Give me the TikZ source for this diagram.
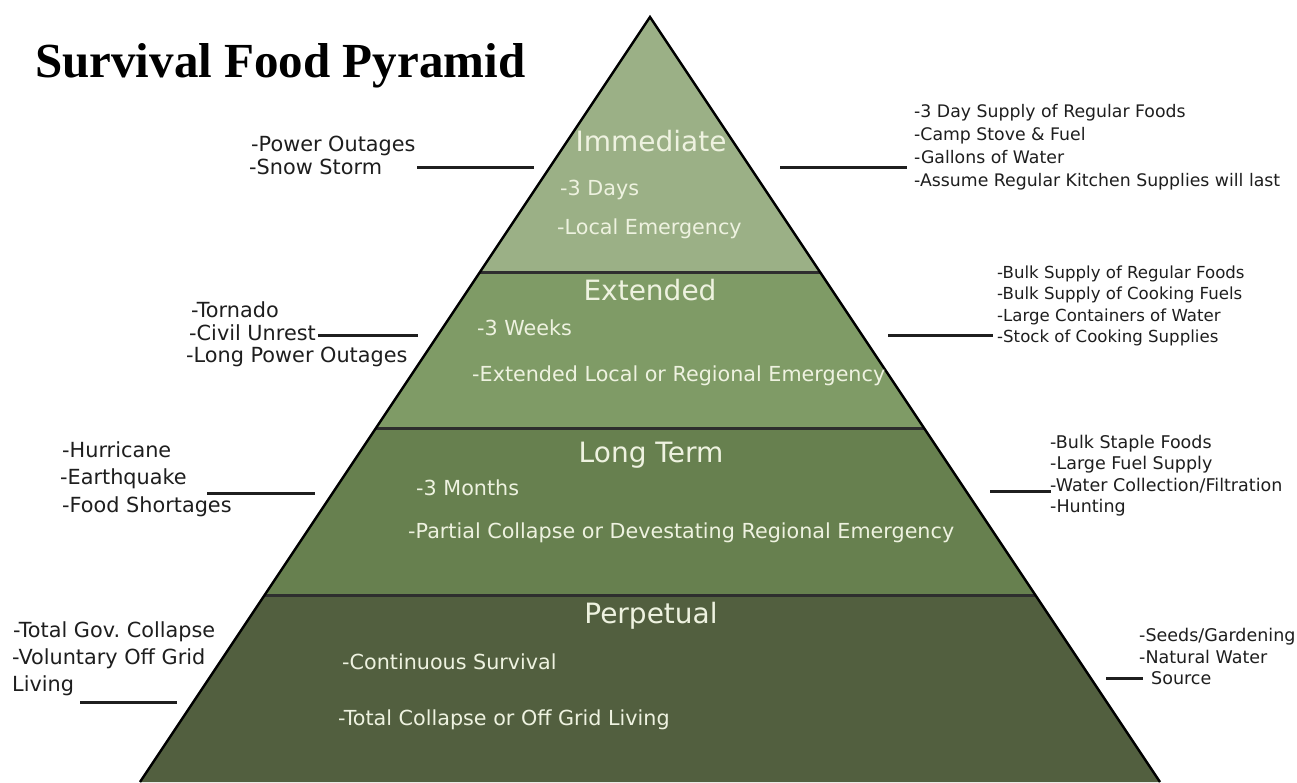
\documentclass[tikz,border=0pt]{standalone}
\usepackage{fontspec}
\setmainfont{DejaVu Sans}
\newfontfamily\titlefont{Liberation Serif}

\definecolor{immcol}{HTML}{9BB086}
\definecolor{extcol}{HTML}{7F9B66}
\definecolor{ltcol}{HTML}{67804F}
\definecolor{perpcol}{HTML}{525F3F}
\definecolor{bandtext}{HTML}{EEF2E0}
\definecolor{labeltext}{HTML}{1E1E1E}

\tikzset{
  edge/.style={line width=2.4pt, black, line join=miter},
  divider/.style={line width=3pt, black!82},
  conn/.style={line width=3pt, black!88},
  bandhead/.style={font=\fontsize{28}{33}\selectfont, text=bandtext, inner sep=0pt, anchor=base},
  banditem/.style={font=\fontsize{20.7}{25}\selectfont, text=bandtext, inner sep=0pt, anchor=base west},
  lbl/.style={text=labeltext, inner sep=0pt, anchor=base west},
  lblL/.style={lbl, font=\fontsize{20.8}{25}\selectfont},
  rlbl/.style={lbl, font=\fontsize{17.3}{20}\selectfont},
  rlblE/.style={lbl, font=\fontsize{16.6}{20}\selectfont},
  rlblL/.style={lbl, font=\fontsize{17.5}{20}\selectfont},
}

\begin{document}
\begin{tikzpicture}[x=1pt,y=-1pt]
\useasboundingbox (0,0) rectangle (1297,782);
\fill[white] (0,0) rectangle (1297,782);

% pyramid corners and band boundaries
\coordinate (apex) at (650,17);
\coordinate (bl) at (140,782);
\coordinate (br) at (1160,782);
\coordinate (l1) at (480,272);   \coordinate (r1) at (820,272);
\coordinate (l2) at (376,428);   \coordinate (r2) at (924,428);
\coordinate (l3) at (264.7,595); \coordinate (r3) at (1035.3,595);

% bands
\fill[immcol]  (apex) -- (r1) -- (l1) -- cycle;
\fill[extcol]  (l1) -- (r1) -- (r2) -- (l2) -- cycle;
\fill[ltcol]   (l2) -- (r2) -- (r3) -- (l3) -- cycle;
\fill[perpcol] (l3) -- (r3) -- (br) -- (bl) -- cycle;

\draw[divider] (l1) -- (r1);
\draw[divider] (l2) -- (r2);
\draw[divider] (l3) -- (r3);
\draw[edge] (bl) -- (apex) -- (br);

% title
\node[inner sep=0pt, anchor=base west, font=\titlefont\bfseries\fontsize{49}{56}\selectfont] (title) at (35,77) {Survival Food Pyramid};

% band texts
\node[bandhead] (immhead) at (651,151) {Immediate};
\node[banditem] (imm1) at (560,195) {-3 Days};
\node[banditem] (imm2) at (557,234) {-Local Emergency};

\node[bandhead] (exthead) at (650,300) {Extended};
\node[banditem] (ext1) at (477,335) {-3 Weeks};
\node[banditem] (ext2) at (472,381) {-Extended Local or Regional Emergency};

\node[bandhead] (lthead) at (651,462) {Long Term};
\node[banditem] (lt1) at (416,495) {-3 Months};
\node[banditem] (lt2) at (408,538) {-Partial Collapse or Devestating Regional Emergency};

\node[bandhead] (perphead) at (651,623) {Perpetual};
\node[banditem] (perp1) at (342,669) {-Continuous Survival};
\node[banditem] (perp2) at (338,725) {-Total Collapse or Off Grid Living};

% left labels: causes
\node[lblL] (immL1) at (251,151) {-Power Outages};
\node[lblL] (immL2) at (249,174) {-Snow Storm};
\coordinate (immLa) at (417,167); \coordinate (immLb) at (534,167);
\draw[conn] (immLa) -- (immLb);

\node[lblL] (extL1) at (191,317) {-Tornado};
\node[lblL] (extL2) at (189,340) {-Civil Unrest};
\node[lblL] (extL3) at (186,362) {-Long Power Outages};
\coordinate (extLa) at (318,335); \coordinate (extLb) at (418,335);
\draw[conn] (extLa) -- (extLb);

\node[lblL] (ltL1) at (62,457) {-Hurricane};
\node[lblL] (ltL2) at (60,484) {-Earthquake};
\node[lblL] (ltL3) at (62,512) {-Food Shortages};
\coordinate (ltLa) at (207,493); \coordinate (ltLb) at (315,493);
\draw[conn] (ltLa) -- (ltLb);

\node[lblL] (perpL1) at (13,637) {-Total Gov.\ Collapse};
\node[lblL] (perpL2) at (12,664) {-Voluntary Off Grid};
\node[lblL] (perpL3) at (12,691) {Living};
\coordinate (perpLa) at (80,702); \coordinate (perpLb) at (177,702);
\draw[conn] (perpLa) -- (perpLb);

% right labels: supplies
\node[rlbl] (immR1) at (914,117) {-3 Day Supply of Regular Foods};
\node[rlbl] (immR2) at (914,140) {-Camp Stove \& Fuel};
\node[rlbl] (immR3) at (914,163) {-Gallons of Water};
\node[rlbl] (immR4) at (914,186) {-Assume Regular Kitchen Supplies will last};
\coordinate (immRa) at (780,167); \coordinate (immRb) at (907,167);
\draw[conn] (immRa) -- (immRb);

\node[rlblE] (extR1) at (997,278) {-Bulk Supply of Regular Foods};
\node[rlblE] (extR2) at (997,299) {-Bulk Supply of Cooking Fuels};
\node[rlblE] (extR3) at (997,321) {-Large Containers of Water};
\node[rlblE] (extR4) at (997,342) {-Stock of Cooking Supplies};
\coordinate (extRa) at (888,335); \coordinate (extRb) at (993,335);
\draw[conn] (extRa) -- (extRb);

\node[rlblL] (ltR1) at (1050,448) {-Bulk Staple Foods};
\node[rlblL] (ltR2) at (1050,469) {-Large Fuel Supply};
\node[rlblL] (ltR3) at (1050,491) {-Water Collection/Filtration};
\node[rlblL] (ltR4) at (1050,512) {-Hunting};
\coordinate (ltRa) at (990,491); \coordinate (ltRb) at (1051,491);
\draw[conn] (ltRa) -- (ltRb);

\node[rlblL] (perpR1) at (1139,641) {-Seeds/Gardening};
\node[rlblL] (perpR2) at (1139,663) {-Natural Water};
\node[rlblL] (perpR3) at (1151,684) {Source};
\coordinate (perpRa) at (1106,678); \coordinate (perpRb) at (1143,678);
\draw[conn] (perpRa) -- (perpRb);
\end{tikzpicture}
\end{document}
